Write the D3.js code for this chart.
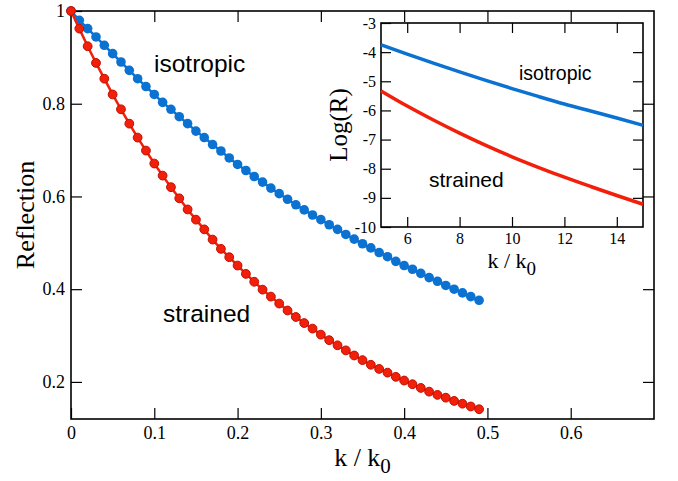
<!DOCTYPE html>
<html>
<head>
<meta charset="utf-8">
<script src="https://cdn.jsdelivr.net/npm/d3@7"></script>
<style>
  body { margin: 0; background: #fff; }
  svg { display: block; }
  .tick text { font-family: 'Liberation Serif', 'Times New Roman', serif; fill: #000; }
  .tick line { stroke: #000; stroke-width: 1.2; }
</style>
</head>
<body>
<svg id="chart" width="678" height="481"></svg>
<script>
// main panel: reflection vs k/k0
const kValues = [0, 0.01, 0.02, 0.03, 0.04, 0.05, 0.06, 0.07, 0.08, 0.09,
  0.10, 0.11, 0.12, 0.13, 0.14, 0.15, 0.16, 0.17, 0.18, 0.19,
  0.20, 0.21, 0.22, 0.23, 0.24, 0.25, 0.26, 0.27, 0.28, 0.29,
  0.30, 0.31, 0.32, 0.33, 0.34, 0.35, 0.36, 0.37, 0.38, 0.39,
  0.40, 0.41, 0.42, 0.43, 0.44, 0.45, 0.46, 0.47, 0.48, 0.49];
const isotropicR = [1.000, 0.980, 0.962, 0.944, 0.926, 0.908, 0.890, 0.872, 0.854, 0.837,
  0.820, 0.803, 0.788, 0.772, 0.757, 0.741, 0.727, 0.712, 0.698, 0.683,
  0.669, 0.656, 0.643, 0.631, 0.618, 0.606, 0.594, 0.582, 0.571, 0.560,
  0.550, 0.539, 0.529, 0.518, 0.508, 0.498, 0.489, 0.479, 0.470, 0.460,
  0.451, 0.443, 0.434, 0.425, 0.417, 0.408, 0.400, 0.392, 0.384, 0.376];
const strainedR = [1.000, 0.962, 0.924, 0.888, 0.854, 0.820, 0.788, 0.757, 0.727, 0.699,
  0.671, 0.645, 0.620, 0.596, 0.572, 0.550, 0.529, 0.507, 0.487, 0.469,
  0.451, 0.433, 0.416, 0.399, 0.384, 0.369, 0.354, 0.340, 0.327, 0.315,
  0.302, 0.290, 0.279, 0.268, 0.257, 0.247, 0.237, 0.228, 0.220, 0.211,
  0.203, 0.195, 0.187, 0.179, 0.172, 0.166, 0.159, 0.153, 0.147, 0.141];
const xTicks = [0, 0.1, 0.2, 0.3, 0.4, 0.5, 0.6];
const yTicks = [0.2, 0.4, 0.6, 0.8, 1];

// inset: log(R) vs k/k0
const kInset = [5, 6, 7, 8, 9, 10, 11, 12, 13, 14, 15];
const logIsotropic = [-3.75, -4.07, -4.38, -4.68, -4.97, -5.25, -5.52, -5.78, -6.02, -6.26, -6.51];
const logStrained = [-5.33, -5.85, -6.33, -6.78, -7.20, -7.59, -7.95, -8.29, -8.61, -8.92, -9.22];
const insetXTicks = [6, 8, 10, 12, 14];
const insetYTicks = [-10, -9, -8, -7, -6, -5, -4, -3];

const BLUE = '#0b72d2';
const RED = '#f2200a';
const RED_EDGE = '#c01000';

const svg = d3.select('#chart');
const serif = "'Liberation Serif', 'Times New Roman', serif";
const sans = "'Liberation Sans', Arial, Helvetica, sans-serif";

// MAIN
const x = d3.scaleLinear().domain([0, 0.7]).range([71, 654]);
const y = d3.scaleLinear().domain([0.12, 1.0]).range([419, 11]);
const fmt = d3.format('~g');

const main = svg.append('g').attr('class', 'main');

main.append('g')
  .attr('transform', 'translate(0,419)')
  .call(d3.axisBottom(x).tickValues(xTicks).tickFormat(fmt).tickSizeInner(-11).tickSizeOuter(0).tickPadding(7))
  .call(g => g.select('.domain').remove())
  .selectAll('text').style('font-size', '18px');
main.append('g')
  .attr('transform', 'translate(71,0)')
  .call(d3.axisLeft(y).tickValues(yTicks).tickFormat(fmt).tickSizeInner(-11).tickSizeOuter(0).tickPadding(6))
  .call(g => g.select('.domain').remove())
  .selectAll('text').style('font-size', '18px');
main.append('g')
  .attr('transform', 'translate(0,11)')
  .call(d3.axisTop(x).tickValues(xTicks.filter(d => d > 0)).tickFormat('').tickSizeInner(-11).tickSizeOuter(0))
  .call(g => g.select('.domain').remove());
main.append('g')
  .attr('transform', 'translate(654,0)')
  .call(d3.axisRight(y).tickValues(yTicks.filter(d => d < 1)).tickFormat('').tickSizeInner(-11).tickSizeOuter(0))
  .call(g => g.select('.domain').remove());

main.append('rect')
  .attr('x', 71).attr('y', 11)
  .attr('width', 654 - 71).attr('height', 419 - 11)
  .attr('fill', 'none').attr('stroke', '#000').attr('stroke-width', 1.6);

const mainLine = d3.line().x(d => x(d[0])).y(d => y(d[1]));

const isoPts = kValues.map((k, i) => [k, isotropicR[i]]);
const strPts = kValues.map((k, i) => [k, strainedR[i]]);

main.append('path').datum(isoPts)
  .attr('d', mainLine).attr('fill', 'none')
  .attr('stroke', BLUE).attr('stroke-width', 2.5);
main.append('g').selectAll('circle').data(isoPts).enter()
  .append('circle')
  .attr('cx', d => x(d[0])).attr('cy', d => y(d[1]))
  .attr('r', 4.8).attr('fill', BLUE);

main.append('path').datum(strPts)
  .attr('d', mainLine).attr('fill', 'none')
  .attr('stroke', RED).attr('stroke-width', 2.5);
main.append('g').selectAll('circle').data(strPts).enter()
  .append('circle')
  .attr('cx', d => x(d[0])).attr('cy', d => y(d[1]))
  .attr('r', 4.4).attr('fill', RED)
  .attr('stroke', RED_EDGE).attr('stroke-width', 1);

main.append('text')
  .attr('x', 154).attr('y', 72)
  .style('font-family', sans).style('font-size', '24.5px')
  .text('isotropic');
main.append('text')
  .attr('x', 163).attr('y', 322)
  .style('font-family', sans).style('font-size', '24.5px')
  .text('strained');

main.append('text')
  .attr('transform', 'translate(34,215) rotate(-90)')
  .attr('text-anchor', 'middle')
  .style('font-family', serif).style('font-size', '26px')
  .text('Reflection');

const xl = main.append('text')
  .attr('x', 362.5).attr('y', 466)
  .attr('text-anchor', 'middle')
  .style('font-family', serif).style('font-size', '26px');
xl.append('tspan').text('k / k');
xl.append('tspan').attr('dy', 7).style('font-size', '21px').text('0');

// INSET
const ix = d3.scaleLinear().domain([5, 15]).range([381, 643]);
const iy = d3.scaleLinear().domain([-10, -3]).range([227, 23]);

const inset = svg.append('g').attr('class', 'inset');

inset.append('rect')
  .attr('x', 381).attr('y', 23)
  .attr('width', 643 - 381).attr('height', 227 - 23)
  .attr('fill', '#fff');

inset.append('g')
  .attr('transform', 'translate(0,227)')
  .call(d3.axisBottom(ix).tickValues(insetXTicks).tickSizeInner(-10).tickSizeOuter(0).tickPadding(6))
  .call(g => g.select('.domain').remove())
  .selectAll('text').style('font-size', '16px');
inset.append('g')
  .attr('transform', 'translate(381,0)')
  .call(d3.axisLeft(iy).tickValues(insetYTicks).tickFormat(d => '-' + Math.abs(d)).tickSizeInner(-10).tickSizeOuter(0).tickPadding(5))
  .call(g => g.select('.domain').remove())
  .selectAll('text').style('font-size', '16px');
inset.append('g')
  .attr('transform', 'translate(0,23)')
  .call(d3.axisTop(ix).tickValues(insetXTicks).tickFormat('').tickSizeInner(-10).tickSizeOuter(0))
  .call(g => g.select('.domain').remove());
inset.append('g')
  .attr('transform', 'translate(643,0)')
  .call(d3.axisRight(iy).tickValues(insetYTicks.slice(1, -1)).tickFormat('').tickSizeInner(-10).tickSizeOuter(0))
  .call(g => g.select('.domain').remove());

inset.append('rect')
  .attr('x', 381).attr('y', 23)
  .attr('width', 643 - 381).attr('height', 227 - 23)
  .attr('fill', 'none').attr('stroke', '#000').attr('stroke-width', 1.6);

const insetLine = d3.line().curve(d3.curveMonotoneX).x(d => ix(d[0])).y(d => iy(d[1]));

inset.append('path').datum(kInset.map((k, i) => [k, logIsotropic[i]]))
  .attr('d', insetLine).attr('fill', 'none')
  .attr('stroke', BLUE).attr('stroke-width', 3.5);
inset.append('path').datum(kInset.map((k, i) => [k, logStrained[i]]))
  .attr('d', insetLine).attr('fill', 'none')
  .attr('stroke', RED).attr('stroke-width', 3.5);

inset.append('text')
  .attr('x', 519).attr('y', 80)
  .style('font-family', sans).style('font-size', '19.5px')
  .text('isotropic');
inset.append('text')
  .attr('x', 429).attr('y', 187)
  .style('font-family', sans).style('font-size', '21px')
  .text('strained');

inset.append('text')
  .attr('transform', 'translate(347,125) rotate(-90)')
  .attr('text-anchor', 'middle')
  .style('font-family', serif).style('font-size', '25px')
  .text('Log(R)');

const ixl = inset.append('text')
  .attr('x', 511.8).attr('y', 268)
  .attr('text-anchor', 'middle')
  .style('font-family', serif).style('font-size', '22px');
ixl.append('tspan').text('k / k');
ixl.append('tspan').attr('dy', 7).style('font-size', '19px').text('0');
</script>
</body>
</html>
